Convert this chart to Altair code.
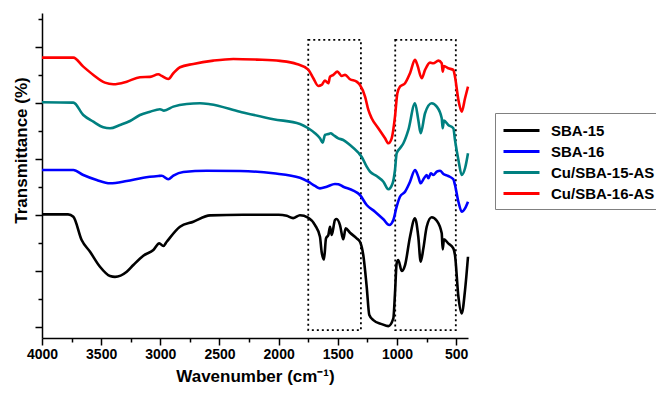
import altair as alt
import pandas as pd

series_names = ["SBA-15", "SBA-16", "Cu/SBA-15-AS", "Cu/SBA-16-AS"]
series_colors = ["#000000", "#0000FF", "#008080", "#FF0000"]

sba15_wn = [4000, 3780, 3735, 3665, 3594, 3510, 3425, 3383, 3284, 3228, 3144, 3059, 3009, 2975, 2946,
            2834, 2721, 2580, 2300, 2000, 1932, 1878, 1820, 1752, 1693, 1651, 1637, 1617, 1600, 1580,
            1566, 1552, 1524, 1510, 1482, 1454, 1434, 1397, 1341, 1313, 1285, 1256, 1234, 1200, 1129,
            1073, 1031, 1017, 1003, 989, 960, 932, 890, 848, 820, 800, 777, 749, 707, 664, 622, 614,
            603, 567, 524, 510, 481, 453, 425, 400]
sba15_t = [2.007, 2.007, 1.964, 1.548, 1.339, 1.071, 0.905, 0.890, 0.982, 1.102, 1.268, 1.370, 1.489, 1.441, 1.518,
           1.786, 1.875, 1.989, 2.0, 2.0, 1.98, 1.94, 1.99, 1.95, 1.816, 1.607, 1.339, 1.200, 1.579, 1.638,
           1.786, 1.638, 1.905, 1.923, 1.816, 1.561, 1.757, 1.679, 1.579, 1.518, 1.280, 0.714, 0.209, 0.120, 0.048,
           0.0125, 0.150, 0.596, 1.132, 1.191, 0.995, 1.102, 1.607, 1.936, 1.607, 1.161, 1.400, 1.786, 1.954, 1.893, 1.668, 1.382,
           1.561, 1.489, 1.400, 1.280, 0.536, 0.239, 0.655, 1.25]

sba16_wn = [4000, 3735, 3651, 3538, 3425, 3284, 3144, 3017, 2988, 2933, 2890, 2806, 2608, 2327, 2045,
            1820, 1750, 1693, 1651, 1594, 1524, 1496, 1454, 1369, 1313, 1256, 1186, 1115, 1065, 1031,
            1003, 975, 932, 890, 848, 820, 800, 772, 749, 735, 714, 693, 664, 636, 608, 567, 524, 510,
            481, 453, 425, 400]
sba16_t = [2.798, 2.798, 2.709, 2.620, 2.561, 2.602, 2.661, 2.691, 2.696, 2.632, 2.696, 2.763, 2.786, 2.780, 2.739,
           2.66, 2.589, 2.513, 2.471, 2.5, 2.548, 2.543, 2.5, 2.429, 2.352, 2.173, 2.054, 1.918, 1.816, 1.905,
           2.143, 2.321, 2.411, 2.589, 2.798, 2.679, 2.561, 2.650, 2.709, 2.650, 2.739, 2.709, 2.768, 2.786, 2.727, 2.691, 2.632, 2.530,
           2.232, 2.054, 2.114, 2.232]

cu15_wn = [4000, 3735, 3651, 3566, 3482, 3425, 3341, 3256, 3172, 3087, 3003, 2969, 2890, 2777, 2665,
           2580, 2327, 2045, 1820, 1750, 1693, 1651, 1628, 1609, 1580, 1560, 1538, 1496, 1454, 1397,
           1327, 1299, 1256, 1228, 1172, 1115, 1073, 1037, 1017, 1003, 975, 946, 904, 848, 820, 800,
           763, 707, 664, 622, 614, 603, 567, 524, 510, 481, 453, 425, 400]
cu15_t = [4.007, 4.0, 3.780, 3.661, 3.561, 3.543, 3.602, 3.673, 3.780, 3.839, 3.882, 3.857, 3.929, 3.977, 3.989,
          3.971, 3.839, 3.704, 3.620, 3.543, 3.454, 3.364, 3.286, 3.423, 3.441, 3.454, 3.423, 3.364, 3.334, 3.245,
          3.107, 3.036, 2.857, 2.768, 2.691, 2.589, 2.454, 2.561, 2.798, 3.096, 3.186, 3.275, 3.513, 3.989, 3.691, 3.454,
          3.811, 3.989, 3.929, 3.721, 3.543, 3.679, 3.602, 3.543, 3.334, 2.977, 2.709, 2.829, 3.096]

cu16_wn = [4000, 3735, 3651, 3566, 3468, 3397, 3284, 3172, 3087, 3017, 2988, 2933, 2890, 2834, 2721,
           2552, 2383, 2186, 1989, 1848, 1750, 1707, 1665, 1637, 1609, 1580, 1566, 1538, 1504, 1467,
           1439, 1397, 1341, 1313, 1270, 1242, 1214, 1158, 1101, 1073, 1045, 1017, 997, 975, 932, 890,
           848, 828, 791, 763, 721, 693, 650, 622, 614, 603, 567, 524, 510, 481, 453, 425, 400]
cu16_t = [4.804, 4.804, 4.643, 4.495, 4.357, 4.329, 4.375, 4.454, 4.46, 4.507, 4.477, 4.423, 4.525, 4.632, 4.691,
          4.750, 4.780, 4.768, 4.745, 4.691, 4.59, 4.436, 4.298, 4.316, 4.393, 4.346, 4.464, 4.495, 4.554, 4.477,
          4.495, 4.418, 4.375, 4.316, 4.107, 3.870, 3.721, 3.543, 3.364, 3.275, 3.364, 3.750, 4.168, 4.286, 4.346, 4.525,
          4.763, 4.673, 4.436, 4.584, 4.714, 4.704, 4.750, 4.704, 4.554, 4.655, 4.614, 4.584, 4.464, 4.048, 3.839, 4.079, 4.286]

box_left = [1750, 1015]
box_right = [1305, 503]
box_bottom = [-0.06, -0.06]
box_top = [5.12, 5.12]

x_tick_values = [500, 750, 1000, 1250, 1500, 1750, 2000, 2250, 2500, 2750, 3000, 3250, 3500, 3750, 4000]
y_tick_values = [0, 0.5, 1, 1.5, 2, 2.5, 3, 3.5, 4, 4.5, 5, 5.5]

rows = []
for name, wns, ts in zip(series_names, [sba15_wn, sba16_wn, cu15_wn, cu16_wn],
                         [sba15_t, sba16_t, cu15_t, cu16_t]):
    for w, t in zip(wns, ts):
        rows.append({"series": name, "wn": w, "t": t})
df = pd.DataFrame(rows)

box_df = pd.DataFrame({"wn": box_left, "wn2": box_right, "t": box_bottom, "t2": box_top})

FONT = "Liberation Sans"

x_axis = alt.Axis(
    values=x_tick_values,
    labelExpr="datum.value % 500 === 0 ? datum.label : ''",
    format="d",
    labelFlush=False,
    labelOverlap=False,
    tickSize={"condition": {"test": "datum.value % 500 === 0", "value": 7}, "value": 4},
    title="Wavenumber (cm⁻¹)",
    titleX=213, titleY=38, titleBaseline="middle", titleAlign="center",
    labelPadding=2,
)
y_axis = alt.Axis(
    values=y_tick_values,
    labels=False,
    tickSize={"condition": {"test": "datum.value % 1 === 0", "value": 7}, "value": 4},
    title="Transmittance (%)",
    titleX=-21, titleY=137, titleAngle=270, titleBaseline="middle", titleAlign="center",
)

x_scale = alt.Scale(domain=[400, 4000], reverse=True, nice=False, zero=False)
y_scale = alt.Scale(domain=[-0.2, 5.6], nice=False, zero=False)

boxes = alt.Chart(box_df).mark_rect(
    fillOpacity=0, stroke="black", strokeDash=[2, 3], strokeWidth=1.8
).encode(
    x=alt.X("wn:Q", scale=x_scale, axis=x_axis),
    x2="wn2:Q",
    y=alt.Y("t:Q", scale=y_scale, axis=y_axis),
    y2="t2:Q",
)

lines = alt.Chart(df).mark_line(strokeWidth=2.6, interpolate="monotone").encode(
    x=alt.X("wn:Q", scale=x_scale, axis=x_axis),
    y=alt.Y("t:Q", scale=y_scale, axis=y_axis),
    color=alt.Color(
        "series:N",
        scale=alt.Scale(domain=series_names, range=series_colors),
        legend=alt.Legend(
            title=None, orient="none", legendX=453, legendY=100,
            symbolType="M-2,0H2", symbolSize=324, symbolStrokeWidth=3,
            symbolOffset=9,
            labelFontSize=15, labelFontWeight="bold", labelFont=FONT,
            padding=7, rowPadding=2, labelOffset=19,
            strokeColor="#808080", fillColor="white",
        ),
    ),
)

chart = alt.layer(boxes, lines).properties(
    width=426, height=325,
    autosize=alt.AutoSizeParams(type="none"),
    padding={"left": 34, "top": 5, "right": 188, "bottom": 47},
).configure_view(stroke=None).configure_axis(
    grid=False, domainColor="black", domainWidth=1.5, tickColor="black", tickWidth=1.5,
    labelFont=FONT, labelFontWeight="bold", labelFontSize=14, labelColor="black",
    titleFont=FONT, titleFontWeight="bold", titleFontSize=17, titleColor="black",
)

chart.save("out.html", embed_options={"renderer": "svg", "actions": False})
